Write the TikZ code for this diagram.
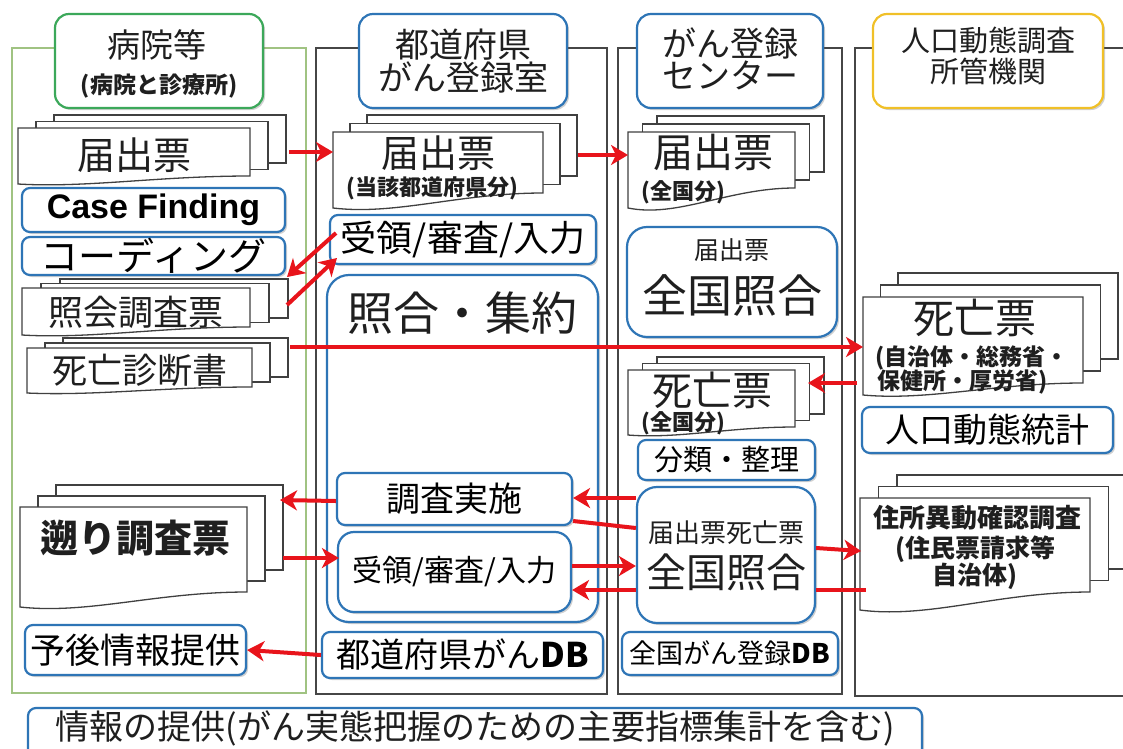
\documentclass[tikz,border=0pt]{standalone}
\usepackage{fontspec}
\setmainfont{Noto Sans CJK JP}
\newfontfamily\lat{Liberation Sans}
\usetikzlibrary{arrows.meta,shadows}
\definecolor{bl}{RGB}{46,117,182}
\definecolor{rd}{RGB}{232,20,27}
\definecolor{gr}{RGB}{60,168,90}
\definecolor{lgr}{RGB}{160,195,130}
\definecolor{yl}{RGB}{240,192,40}
\definecolor{fr}{RGB}{70,70,70}
\newcommand\fs[1]{\fontsize{#1}{#1}\selectfont}
\newcommand\fsl[2]{\fontsize{#1}{#2}\selectfont}
\tikzset{
 bbox/.style={draw=bl, line width=2.2pt, rounded corners=8pt, fill=white, inner sep=0pt,
   drop shadow={shadow xshift=2pt,shadow yshift=-2pt,opacity=0.3,fill=black!60}},
 hbox/.style={bbox, rounded corners=14pt, minimum height=94pt},
 colframe/.style={draw=fr, line width=1.2pt},
 arr/.style={draw=rd, line width=4pt, -{Stealth[length=17pt,width=20pt,inset=5pt]}},
 rline/.style={draw=rd, line width=4pt},
 docp/.style={draw=black!75, line width=1.3pt, fill=white},
 txt/.style={inner sep=0pt, text=black!88, align=center},
}
% front page of a document: x0, ytop, x1, ybottom(right), drop of left end
\newcommand\docpage[5]{%
 \pgfmathsetmacro\dpw{#3-#1}%
 \draw[docp] (#1,#2) -- (#3,#2) -- (#3,#4) .. controls ({#3-0.4*\dpw},#4) and ({#1+0.3*\dpw},{#4+1.5*#5}) .. (#1,{#4+#5}) -- cycle;}
% stack of three pages: x0, ytop, x1, ybottom, drop, dx, dy
\newcommand\docstack[7]{%
 \foreach \k in {2,1}{\draw[docp] ({#1+\k*#6},{#2-\k*#7}) rectangle ({#3+\k*#6},{#4-\k*#7});}
 \docpage{#1}{#2}{#3}{#4}{#5}}
\begin{document}
\begin{tikzpicture}[x=1pt,y=-1pt]
\useasboundingbox (0,0) rectangle (1123,748);
\clip (0,0) rectangle (1123,748);
\fill[white] (0,0) rectangle (1123,748);

% column frames
\draw[draw=lgr,line width=1.3pt] (12,48) rectangle (306,693);
\draw[colframe] (316,48) rectangle (607,694);
\draw[colframe] (618,48) rectangle (842,694);
\draw[colframe] (855,48) rectangle (1140,696);

% headers
\node[hbox, draw=gr, minimum width=208pt] (hosp) at (159,61) {};
\node[txt] (hospt) at (157,45) {\fs{33}病院等};
\node[txt] (hosps) at (159,86) {\fs{23}\bfseries (病院と診療所)};
\node[hbox, minimum width=208pt] (pref) at (463,61) {};
\node[txt, font=\fsl{34}{31}] (preft) at (463,61) {都道府県\\がん登録室};
\node[hbox, minimum width=186pt] (cent) at (730,61) {};
\node[txt, font=\fsl{34}{32}] (centt) at (730,59) {がん登録\\センター};
\node[hbox, draw=yl, minimum width=230pt] (jink) at (988,61) {};
\node[txt, font=\fsl{29}{31}] (jinkt) at (988,56) {人口動態調査\\所管機関};

% ---- column 1
\docstack{18}{128}{250}{176}{8}{18}{6.5}
\node[txt] (hdoc1) at (134,155) {\fs{38}届出票};
\node[bbox, minimum width=263pt, minimum height=44pt] (cf) at (153.5,210) {\lat\bfseries\fs{34}Case Finding};
\node[bbox, minimum width=263pt, minimum height=38pt] (coding) at (153.5,256) {\fs{38}コーディング};
\docstack{22}{288}{250}{327}{8}{19}{4.5}
\node[txt] (shokai) at (136,312) {\fs{35}照会調査票};
\docstack{27}{348}{252}{387}{6}{18}{5}
\node[txt] (shindan) at (140,370) {\fs{35}死亡診断書};
\docstack{20}{507}{247}{592}{15}{18}{11}
\node[txt] (saka) at (135,538) {\fs{38}\bfseries 遡り調査票};
\node[bbox, minimum width=221pt, minimum height=50pt] (yogo) at (135.5,650) {\fs{35}予後情報提供};

% ---- column 2
\docstack{333}{132}{543}{193}{15}{17}{8.5}
\node[txt] (pdoc) at (438,153) {\fs{38}届出票};
\node[txt] (pdocs) at (432,188) {\fs{22}\bfseries (当該都道府県分)};
\node[bbox, minimum width=266pt, minimum height=49pt] (ryo1) at (463,239.5) {\fs{36}受領/審査/入力};
\node[bbox, rounded corners=22pt, minimum width=271pt, minimum height=347pt] (shugo) at (462.5,448.5) {};
\node[txt] (shugot) at (462,313) {\fs{46}照合・集約};
\node[bbox, minimum width=235pt, minimum height=52pt] (chosa) at (454.5,499) {\fs{34}調査実施};
\node[bbox, rounded corners=16pt, minimum width=233pt, minimum height=80pt] (ryo2) at (454.5,572) {\fs{30}受領/審査/入力};
\node[bbox, minimum width=281pt, minimum height=46pt] (prefdb) at (462.5,655) {\fs{34}都道府県がん\bfseries DB};

% ---- column 3
\docstack{628}{132}{795}{188}{20}{14.5}{8}
\node[txt] (cdoc) at (713,152) {\fs{40}届出票};
\node[txt, anchor=west] (cdocs) at (641,192) {\fs{22}\bfseries (全国分)};
\node[bbox, rounded corners=20pt, minimum width=210pt, minimum height=110pt] (zk1) at (732,282) {};
\node[txt] (zk1a) at (732,250) {\fs{25}届出票};
\node[txt] (zk1b) at (732,295) {\fs{45}全国照合};
\docstack{628}{370}{795}{427}{8}{14.5}{6.5}
\node[txt] (cshibo) at (712,390) {\fs{40}死亡票};
\node[txt, anchor=west] (cshibos) at (641,423) {\fs{22}\bfseries (全国分)};
\node[bbox, minimum width=177pt, minimum height=40pt] (bunrui) at (726.5,460) {\fs{29}分類・整理};
\node[bbox, rounded corners=20pt, minimum width=178pt, minimum height=136pt] (zk2) at (726,555) {};
\node[txt] (zk2a) at (726,533) {\fs{26}届出票死亡票};
\node[txt] (zk2b) at (726,572) {\fs{40}全国照合};
\node[bbox, minimum width=216pt, minimum height=43pt] (natdb) at (730,653.5) {\fs{27}全国がん登録\bfseries DB};

% ---- column 4
\docstack{863}{297}{1083}{383}{12}{17.5}{12}
\node[txt] (jdoc) at (975,318) {\fs{41}死亡票};
\node[txt, anchor=west] (jdocs1) at (875,358) {\fs{23}\bfseries (自治体・総務省・};
\node[txt, anchor=west] (jdocs2) at (877,382) {\fs{23}\bfseries 保健所・厚労省)};
\node[bbox, minimum width=251pt, minimum height=46pt] (tokei) at (987.5,430) {\fs{34}人口動態統計};
\docstack{860}{498}{1090}{592}{18}{18.5}{11.5}
\node[txt] (jusho) at (977,518) {\fs{26}\bfseries 住所異動確認調査};
\node[txt, font=\fsl{25}{27}\bfseries] (jusho2) at (975,563) {(住民票請求等\\自治体)};

% ---- bottom
\node[bbox, minimum width=894pt, minimum height=57pt] (joho) at (475,736.5) {};
\node[txt] (johot) at (475,728) {\fs{34}情報の提供(がん実態把握のための主要指標集計を含む)};

% ---- connectors
\coordinate (hdocR) at (289,152); \coordinate (pdocL) at (333,152);
\coordinate (pdocR) at (578,155); \coordinate (cdocL) at (628,155);
\coordinate (codR) at (287,277); \coordinate (ryoA) at (336,233);
\coordinate (shoR) at (287,305); \coordinate (ryoB) at (337,258);
\coordinate (shinR) at (290,347); \coordinate (jdocL) at (863,347);
\coordinate (jdocL2) at (857,383); \coordinate (cshR) at (808,383);
\coordinate (sakaR1) at (280,500); \coordinate (sakaR2) at (283,558);
\coordinate (jushoL1) at (861,551); \coordinate (jushoL2) at (866,590);
\coordinate (l497) at (0,498); \coordinate (l500) at (0,501);
\coordinate (l558) at (0,558); \coordinate (l566) at (0,566);
\coordinate (l590) at (0,590); \coordinate (l521) at (0,521);
\coordinate (l528) at (0,528); \coordinate (l548) at (0,548);

\draw[arr] (hdocR) -- (pdocL);
\draw[arr] (pdocR) -- (cdocL);
\draw[arr] (ryoA) -- (codR);
\draw[arr] (shoR) -- (ryoB);
\draw[arr] (shinR) -- (jdocL);
\draw[arr] (jdocL2) -- (cshR);
\draw[arr] (zk2.west |- l497) -- (chosa.east |- l497);
\draw[arr] (chosa.west |- l500) -- (sakaR1);
\draw[arr] (sakaR2) -- ([xshift=2pt]ryo2.west |- l558);
\draw[arr] (ryo2.east |- l566) -- (zk2.west |- l566);
\draw[arr] (zk2.west |- l590) -- (ryo2.east |- l590);
\draw[rline] (chosa.east |- l521) -- (zk2.west |- l528);
\draw[arr] (zk2.east |- l548) -- (jushoL1);
\draw[rline] (zk2.east |- l590) -- (jushoL2);
\draw[arr] (prefdb.west) -- (yogo.east);
\end{tikzpicture}
\end{document}
